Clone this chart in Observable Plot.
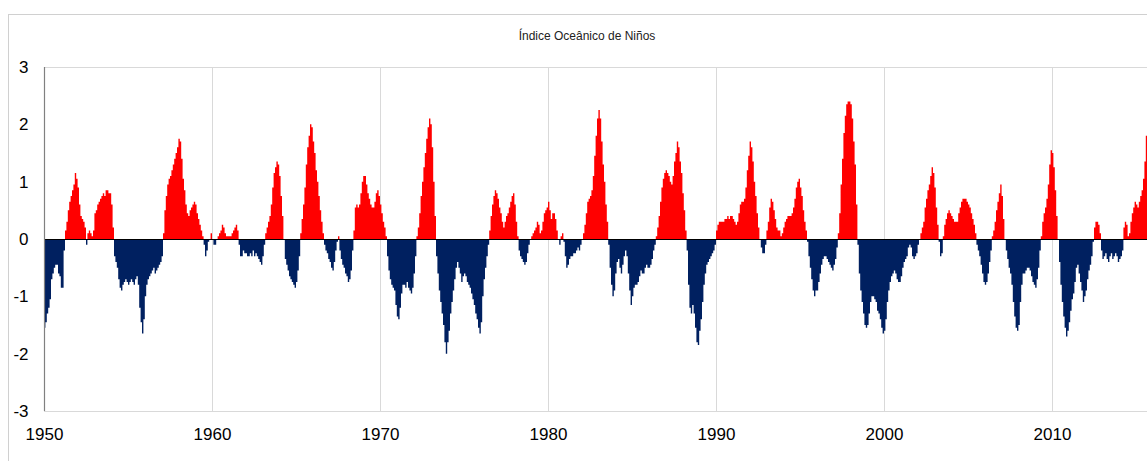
<!DOCTYPE html>
<html><head><meta charset="utf-8">
<script src="https://cdn.jsdelivr.net/npm/d3@7"></script>
<script src="https://cdn.jsdelivr.net/npm/@observablehq/plot@0.6"></script>
<style>
body{margin:0;background:#fff;font-family:"Liberation Sans",Arial,sans-serif;}
#wrap{position:relative;width:1147px;height:461px;overflow:hidden;}
#frame{position:absolute;left:8px;top:14px;width:1200px;height:520px;border:1px solid #d0d0d0;box-sizing:border-box;pointer-events:none;}
#chart{position:absolute;left:0;top:0;}
</style></head>
<body><div id="wrap"><div id="frame"></div><div id="chart"></div></div>
<script>
const title = "Índice Oceânico de Niños";
const startYear = 1950;
const yTicks = [-3, -2, -1, 0, 1, 2, 3];
const xTicks = [1950, 1960, 1970, 1980, 1990, 2000, 2010];

// Monthly index values, one array per decade (Jan of first year onward)
const oni1950s = [
 -1.55,-1.45,-1.3,-1.2,-1.05,-0.7,-0.6,-0.5,-0.45,-0.45,-0.6,-0.65,
 -0.85,-0.85,-0.2,0.15,0.3,0.5,0.65,0.75,0.85,0.95,1.15,1.05,
 0.9,0.6,0.4,0.35,0.3,0.2,-0.1,0.1,0.15,0.1,0.05,0.15,
 0.45,0.5,0.6,0.65,0.7,0.75,0.8,0.75,0.85,0.85,0.8,0.8,
 0.6,0.2,-0.3,-0.4,-0.5,-0.7,-0.85,-0.9,-0.8,-0.75,-0.7,-0.75,
 -0.8,-0.75,-0.7,-0.75,-0.8,-0.7,-0.65,-0.8,-1.2,-1.45,-1.65,-1.4,
 -1.0,-0.8,-0.7,-0.65,-0.6,-0.55,-0.5,-0.6,-0.55,-0.5,-0.45,-0.4,
 -0.3,0.1,0.5,0.75,0.95,1.05,1.1,1.2,1.3,1.4,1.5,1.6,
 1.75,1.7,1.4,1.05,0.85,0.6,0.45,0.4,0.5,0.55,0.6,0.65,
 0.6,0.45,0.35,0.25,0.15,0.05,-0.1,-0.3,-0.2,-0.05,0.0,0.1
];
const oni1960s = [
 0.0,-0.1,-0.1,0.0,0.05,0.1,0.15,0.25,0.2,0.1,0.05,0.05,
 0.05,0.05,0.1,0.15,0.2,0.25,0.15,-0.1,-0.3,-0.3,-0.2,-0.25,
 -0.25,-0.3,-0.3,-0.25,-0.3,-0.2,-0.3,-0.25,-0.3,-0.35,-0.4,-0.45,
 -0.3,-0.1,0.1,0.2,0.3,0.4,0.6,0.9,1.15,1.25,1.35,1.3,
 1.1,0.75,0.4,0.0,-0.35,-0.45,-0.55,-0.65,-0.7,-0.75,-0.8,-0.85,
 -0.75,-0.55,-0.3,0.1,0.35,0.6,0.9,1.3,1.6,1.8,2.0,1.95,
 1.7,1.5,1.2,1.0,0.75,0.5,0.3,0.1,-0.1,-0.2,-0.25,-0.35,
 -0.4,-0.5,-0.55,-0.4,-0.2,-0.05,0.05,-0.2,-0.35,-0.45,-0.5,-0.6,
 -0.65,-0.75,-0.7,-0.55,-0.2,0.15,0.55,0.6,0.55,0.6,0.8,1.0,
 1.1,1.1,0.95,0.8,0.7,0.6,0.55,0.55,0.65,0.8,0.85,0.75
];
const oni1970s = [
 0.6,0.45,0.3,0.2,0.05,-0.3,-0.55,-0.7,-0.8,-0.85,-0.9,-1.15,
 -1.35,-1.4,-1.2,-0.95,-0.8,-0.8,-0.85,-0.75,-0.85,-0.9,-0.95,-0.85,
 -0.6,-0.3,0.05,0.2,0.45,0.75,1.0,1.25,1.5,1.75,1.95,2.1,
 2.0,1.6,1.0,0.4,-0.3,-0.6,-0.9,-1.1,-1.3,-1.5,-1.8,-2.0,
 -1.8,-1.6,-1.3,-1.1,-0.9,-0.7,-0.5,-0.4,-0.5,-0.6,-0.75,-0.65,
 -0.6,-0.65,-0.75,-0.8,-0.85,-0.95,-1.05,-1.15,-1.3,-1.4,-1.55,-1.65,
 -1.45,-1.0,-0.7,-0.5,-0.3,-0.1,0.15,0.4,0.6,0.75,0.85,0.8,
 0.7,0.55,0.45,0.3,0.2,0.3,0.4,0.45,0.55,0.65,0.75,0.8,
 0.6,0.3,0.05,-0.2,-0.3,-0.35,-0.4,-0.45,-0.4,-0.25,-0.1,0.0,
 0.05,0.1,0.15,0.2,0.3,0.25,0.1,0.15,0.3,0.45,0.5,0.55
];
const oni1980s = [
 0.65,0.5,0.35,0.45,0.45,0.35,0.15,0.0,-0.1,0.05,0.1,-0.05,
 -0.3,-0.5,-0.45,-0.35,-0.3,-0.3,-0.25,-0.25,-0.2,-0.15,-0.2,-0.1,
 0.0,0.1,0.25,0.45,0.65,0.7,0.75,0.85,1.1,1.45,1.8,2.1,
 2.25,2.1,1.7,1.3,1.0,0.6,0.3,-0.1,-0.5,-0.8,-1.0,-0.9,
 -0.6,-0.4,-0.35,-0.5,-0.6,-0.45,-0.3,-0.2,-0.3,-0.6,-0.9,-1.15,
 -1.0,-0.85,-0.8,-0.8,-0.75,-0.65,-0.55,-0.6,-0.6,-0.5,-0.45,-0.5,
 -0.5,-0.45,-0.35,-0.2,-0.1,0.05,0.2,0.4,0.65,0.9,1.05,1.15,
 1.2,1.15,1.1,1.0,0.95,1.1,1.35,1.5,1.7,1.6,1.35,1.15,
 0.8,0.5,0.15,-0.2,-0.8,-1.2,-1.3,-1.15,-1.3,-1.55,-1.8,-1.85,
 -1.6,-1.4,-1.1,-0.8,-0.6,-0.45,-0.4,-0.35,-0.3,-0.25,-0.2,-0.1
];
const oni1990s = [
 0.15,0.25,0.3,0.3,0.3,0.3,0.35,0.35,0.4,0.35,0.4,0.4,
 0.35,0.3,0.25,0.3,0.45,0.6,0.65,0.65,0.7,0.9,1.2,1.45,
 1.7,1.6,1.35,1.0,0.75,0.45,0.2,0.0,-0.15,-0.25,-0.25,-0.1,
 0.15,0.3,0.55,0.7,0.65,0.5,0.35,0.2,0.15,0.15,0.05,0.1,
 0.2,0.3,0.35,0.4,0.4,0.4,0.45,0.55,0.7,0.9,1.0,1.05,
 0.9,0.75,0.5,0.3,0.15,-0.05,-0.3,-0.5,-0.7,-0.9,-1.0,-0.9,
 -0.9,-0.75,-0.6,-0.45,-0.35,-0.3,-0.3,-0.35,-0.4,-0.45,-0.5,-0.55,
 -0.45,-0.35,-0.15,0.1,0.45,0.95,1.4,1.85,2.15,2.35,2.4,2.4,
 2.35,2.1,1.7,1.3,0.6,-0.1,-0.6,-0.9,-1.1,-1.3,-1.5,-1.55,
 -1.5,-1.3,-1.1,-1.0,-1.0,-1.05,-1.1,-1.25,-1.3,-1.4,-1.55,-1.65
];
const oni2000s = [
 -1.6,-1.4,-1.1,-0.9,-0.75,-0.65,-0.6,-0.55,-0.6,-0.7,-0.75,-0.75,
 -0.65,-0.5,-0.4,-0.35,-0.3,-0.15,-0.1,-0.15,-0.3,-0.35,-0.3,-0.25,
 -0.1,0.0,0.1,0.2,0.3,0.55,0.7,0.85,0.95,1.1,1.25,1.15,
 0.9,0.55,0.25,-0.05,-0.3,-0.25,0.05,0.25,0.35,0.45,0.5,0.45,
 0.4,0.35,0.3,0.3,0.3,0.45,0.55,0.65,0.7,0.7,0.7,0.65,
 0.6,0.55,0.45,0.35,0.25,0.1,-0.1,-0.2,-0.3,-0.45,-0.6,-0.75,
 -0.8,-0.75,-0.6,-0.4,-0.2,0.05,0.15,0.3,0.5,0.65,0.8,0.95,
 0.75,0.35,0.0,-0.2,-0.35,-0.5,-0.6,-0.8,-1.1,-1.35,-1.55,-1.6,
 -1.5,-1.1,-0.8,-0.6,-0.6,-0.55,-0.5,-0.5,-0.55,-0.65,-0.75,-0.8,
 -0.85,-0.7,-0.5,-0.2,0.05,0.3,0.45,0.55,0.7,0.95,1.3,1.55
];
const oni2010s = [
 1.5,1.25,0.85,0.4,0.0,-0.4,-0.8,-1.1,-1.35,-1.55,-1.7,-1.6,
 -1.45,-1.25,-1.05,-0.95,-0.75,-0.5,-0.45,-0.6,-0.75,-0.9,-1.1,-1.0,
 -0.9,-0.7,-0.55,-0.45,-0.3,-0.05,0.2,0.3,0.3,0.25,0.1,-0.2,
 -0.35,-0.3,-0.25,-0.35,-0.4,-0.3,-0.25,-0.35,-0.3,-0.25,-0.3,-0.4,
 -0.35,-0.3,-0.2,0.2,0.3,0.25,0.05,0.1,0.3,0.45,0.55,0.65,
 0.6,0.55,0.65,0.75,0.85,1.05,1.35,1.8
];

const values = [...oni1950s, ...oni1960s, ...oni1970s, ...oni1980s, ...oni1990s, ...oni2000s, ...oni2010s];
// one step per month; a closing point at the end of the last month
const steps = values.map((v, i) => ({t: startYear + i / 12, v}));
steps.push({t: startYear + values.length / 12, v: values[values.length - 1]});

const red = "#ff0000", navy = "#002060";
const xMax = startYear + 1103 / 16.8;

const chart = Plot.plot({
  width: 1147, height: 461,
  marginLeft: 44, marginRight: 0, marginTop: 67, marginBottom: 50,
  style: {fontFamily: "'Liberation Sans', Arial, sans-serif", fontSize: "17px", color: "#000", background: "transparent", overflow: "visible"},
  x: {domain: [startYear, xMax], axis: null, label: null},
  y: {domain: [-3, 3], axis: null, label: null},
  marks: [
    Plot.gridX(xTicks.slice(1), {stroke: "#d9d9d9", strokeOpacity: 1, strokeWidth: 1}),
    Plot.gridY([-3, 3], {stroke: "#d9d9d9", strokeOpacity: 1, strokeWidth: 1.2}),
    Plot.areaY(steps, {x: "t", y1: 0, y2: d => Math.max(d.v, 0), curve: "step-after", fill: red, clip: true}),
    Plot.areaY(steps, {x: "t", y1: 0, y2: d => Math.min(d.v, 0), curve: "step-after", fill: navy, clip: true}),
    Plot.ruleY([0], {stroke: "#000", strokeWidth: 1.2}),
    Plot.ruleX([startYear], {stroke: "#808080", strokeWidth: 1.2}),
    Plot.axisY(yTicks, {tickSize: 0, tickPadding: 16, fontSize: 17, label: null, tickFormat: d => String(d)}),
    Plot.axisX(xTicks, {tickSize: 0, tickPadding: 16, fontSize: 17, label: null, tickFormat: d => String(d)}),
    Plot.text([title], {frameAnchor: "top", dy: -36, dx: -9, fontSize: 12, fill: "#222"})
  ]
});
document.getElementById("chart").appendChild(chart);
</script>
</body></html>
